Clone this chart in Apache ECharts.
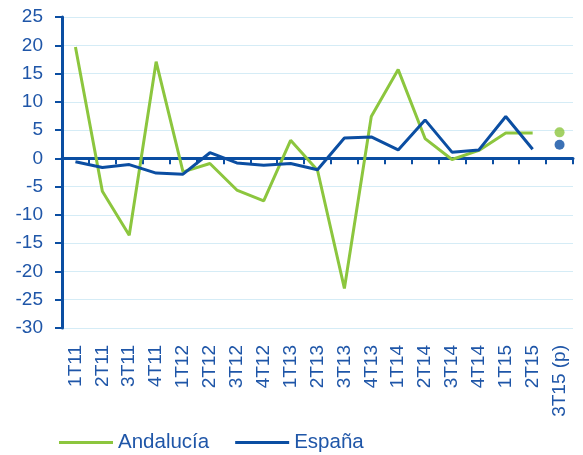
<!DOCTYPE html>
<html><head><meta charset="utf-8">
<script src="https://cdn.jsdelivr.net/npm/echarts@6/dist/echarts.min.js"></script>
<style>html,body{margin:0;padding:0;background:#fff}#c{width:583px;height:455px}</style>
</head><body><div id="c"></div>
<script>
const categories = ['1T11','2T11','3T11','4T11','1T12','2T12','3T12','4T12','1T13','2T13','3T13','4T13','1T14','2T14','3T14','4T14','1T15','2T15','3T15 (p)'];
const andalucia = [19.7,-5.8,-13.6,17.1,-2.4,-0.9,-5.6,-7.5,3.2,-2.1,-23.0,7.4,15.7,3.5,-0.2,1.4,4.5,4.5,null];
const espana = [-0.6,-1.6,-1.1,-2.6,-2.8,1.0,-0.8,-1.2,-0.9,-2.0,3.6,3.8,1.5,6.8,1.1,1.5,7.4,1.6,null];
const andaluciaForecast = 4.6;
const espanaForecast = 2.4;
const yTicks = {min:-30, max:25, interval:5};

const GREEN = '#8cc63e', BLUE = '#0b4ea2', TXT = '#1f56a8';
const FONT = 'Liberation Sans, Arial, sans-serif';
const chart = echarts.init(document.getElementById('c'));
chart.setOption({
  animation:false,
  grid:{left:62,right:10,top:17,bottom:127,containLabel:false},
  legend:{
    left:59, top:432, padding:0, itemWidth:54, itemHeight:3, itemGap:26, icon:'rect',
    textStyle:{color:TXT,fontSize:20.5,fontFamily:FONT},
    data:[{name:'Andalucía'},{name:'España'}]
  },
  xAxis:[{
    type:'category', data:categories, position:'bottom', boundaryGap:true,
    axisLine:{show:false,onZero:false}, axisTick:{show:false},
    axisLabel:{rotate:90, color:TXT, fontSize:19, fontFamily:FONT, margin:17, interval:0}
  },{
    type:'category', data:categories, position:'bottom', boundaryGap:true,
    axisLine:{show:true,onZero:true,lineStyle:{color:BLUE,width:3}},
    axisTick:{show:true,length:6,lineStyle:{color:BLUE,width:2},interval:0},
    axisLabel:{show:false}
  }],
  yAxis:{
    type:'value', min:yTicks.min, max:yTicks.max, interval:yTicks.interval,
    axisLine:{show:true,lineStyle:{color:BLUE,width:3}},
    axisTick:{show:true,length:7,lineStyle:{color:BLUE,width:2}},
    axisLabel:{color:TXT,fontSize:19,fontFamily:FONT,margin:19},
    splitLine:{show:true,lineStyle:{color:'#d5ecf6',width:1}}
  },
  series:[
    {name:'Andalucía',type:'line',data:andalucia,xAxisIndex:0,showSymbol:false,
     lineStyle:{color:GREEN,width:3},itemStyle:{color:GREEN},z:3},
    {name:'España',type:'line',data:espana,xAxisIndex:0,showSymbol:false,
     lineStyle:{color:BLUE,width:3},itemStyle:{color:BLUE},z:4},
    {name:'AndalucíaP',type:'scatter',xAxisIndex:0,data:[[categories[18],andaluciaForecast]],
     symbolSize:10,itemStyle:{color:GREEN}},
    {name:'EspañaP',type:'scatter',xAxisIndex:0,data:[[categories[18],espanaForecast]],
     symbolSize:10,itemStyle:{color:BLUE}}
  ]
});
</script></body></html>
